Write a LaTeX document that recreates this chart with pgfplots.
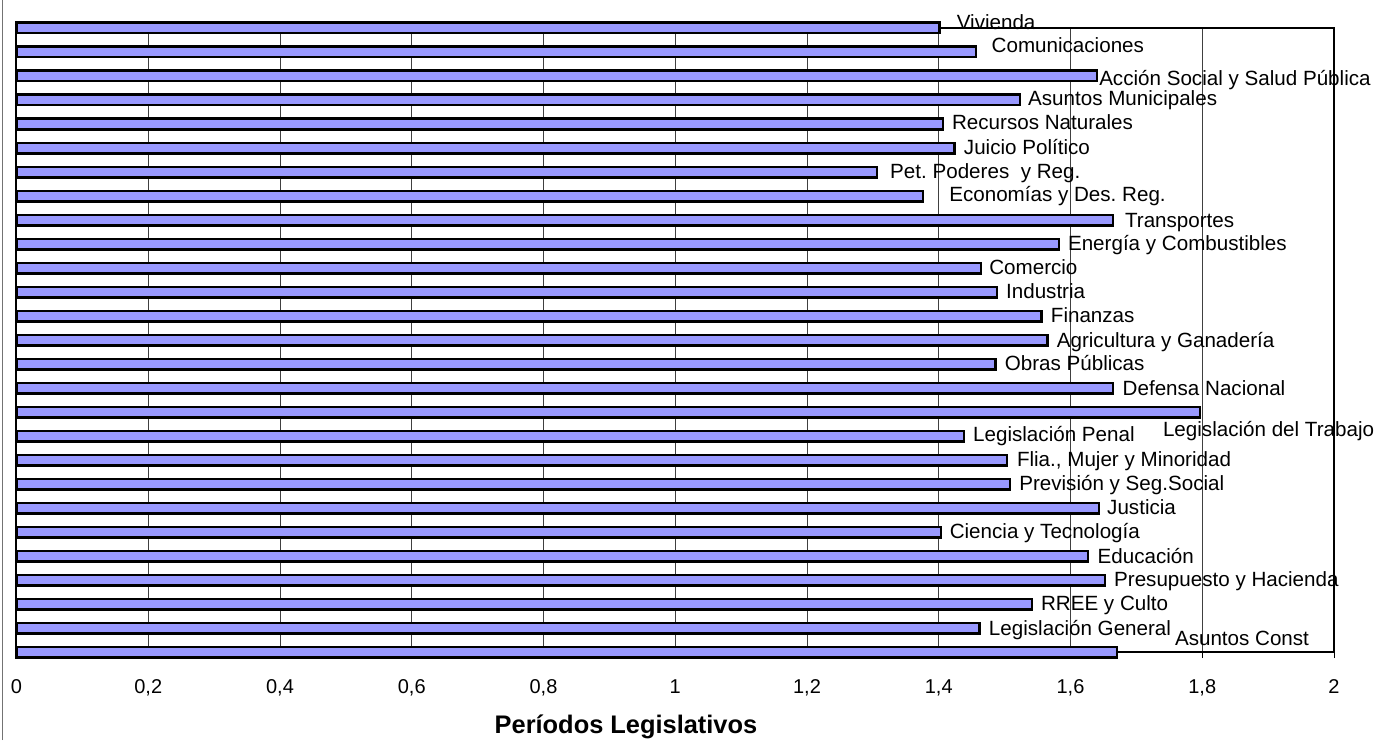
\documentclass[border=0pt]{standalone}
\usepackage{pgfplots}
\pgfplotsset{compat=1.18}
\usepackage{fontspec}
\setmainfont{Liberation Sans}
\frenchspacing
\definecolor{barfill}{RGB}{153,153,255}
\newcommand{\lblfont}{\fontsize{10.3}{12}\selectfont}
% bar-end label: value, index, x gap (px), baseline drop (px), text
\newcommand{\lbl}[5]{\node[anchor=base west, inner sep=0pt, font=\lblfont]
  at (axis cs:#1,#2) [xshift=#3*0.5pt, yshift=-#4*0.5pt] {#5};}
\begin{document}
\begin{tikzpicture}
\useasboundingbox (-8.25pt,-44pt) rectangle (685.75pt,326pt);
\begin{axis}[
  scale only axis,
  width=658.75pt, height=312pt,
  xmin=0, xmax=2, ymin=0, ymax=26,
  clip=false,
  xtick={0,0.2,0.4,0.6,0.8,1,1.2,1.4,1.6,1.8,2},
  ytick=\empty,
  xmajorgrids,
  major grid style={black!75, line width=0.5pt},
  axis line style={black, line width=1pt},
  tick style={black, line width=0.5pt},
  major tick length=3pt,
  tick align=outside,
  xtick pos=bottom,
  /pgf/number format/use comma,
  /pgf/number format/assume math mode=true,
  ticklabel style={font=\fontsize{10}{12}\selectfont},
  xticklabel style={anchor=base, yshift=-17.5pt},
  xlabel={Períodos Legislativos},
  xlabel style={at={(axis description cs:0.4626,0)}, anchor=base,
    yshift=-40.5pt, font=\bfseries\fontsize{12.7}{15}\selectfont},
  xbar, bar width=5.4pt,
]
\addplot[fill=barfill, draw=black, line width=1.1pt] coordinates {
  (1.670,0) (1.462,1) (1.541,2) (1.652,3) (1.627,4) (1.404,5) (1.643,6)
  (1.508,7) (1.503,8) (1.438,9) (1.796,10) (1.665,11) (1.486,12) (1.565,13)
  (1.556,14) (1.488,15) (1.464,16) (1.582,17) (1.664,18) (1.376,19)
  (1.306,20) (1.424,21) (1.406,22) (1.523,23) (1.640,24) (1.457,25) (1.401,26)
};
\lbl{1.401}{26}{17}{1}{Vivienda}
\lbl{1.457}{25}{15}{0}{Comunicaciones}
\lbl{1.640}{24}{2}{10}{Acción Social y Salud Pública}
\lbl{1.523}{23}{8}{6}{Asuntos Municipales}
\lbl{1.406}{22}{9}{6}{Recursos Naturales}
\lbl{1.424}{21}{9}{6}{Juicio Político}
\lbl{1.306}{20}{13}{6}{Pet. Poderes\ \ y Reg.}
\lbl{1.376}{19}{26}{6}{Economías y Des. Reg.}
\lbl{1.664}{18}{12}{7}{Transportes}
\lbl{1.582}{17}{9}{6}{Energía y Combustibles}
\lbl{1.464}{16}{8}{6}{Comercio}
\lbl{1.488}{15}{9}{6}{Industria}
\lbl{1.556}{14}{9}{6}{Finanzas}
\lbl{1.565}{13}{9}{7}{Agricultura y Ganadería}
\lbl{1.486}{12}{9}{6}{Obras Públicas}
\lbl{1.665}{11}{9}{7}{Defensa Nacional}
\lbl{1.796}{10}{-37}{24}{Legislación del Trabajo}
\lbl{1.438}{9}{9}{5}{Legislación Penal}
\lbl{1.503}{8}{10}{6}{Flia., Mujer y Minoridad}
\lbl{1.508}{7}{9}{6}{Previsión y Seg.Social}
\lbl{1.643}{6}{8}{6}{Justicia}
\lbl{1.404}{5}{8}{6}{Ciencia y Tecnología}
\lbl{1.627}{4}{9}{7}{Educación}
\lbl{1.652}{3}{9}{6}{Presupuesto y Hacienda}
\lbl{1.541}{2}{9}{6}{RREE y Culto}
\lbl{1.462}{1}{9}{7}{Legislación General}
\lbl{1.670}{0}{58}{-7}{Asuntos Const}
\end{axis}
% chart-area frame edge
\draw[black!55, line width=0.5pt] (-6.75pt,-44pt) -- (-6.75pt,326pt);
\end{tikzpicture}
\end{document}
